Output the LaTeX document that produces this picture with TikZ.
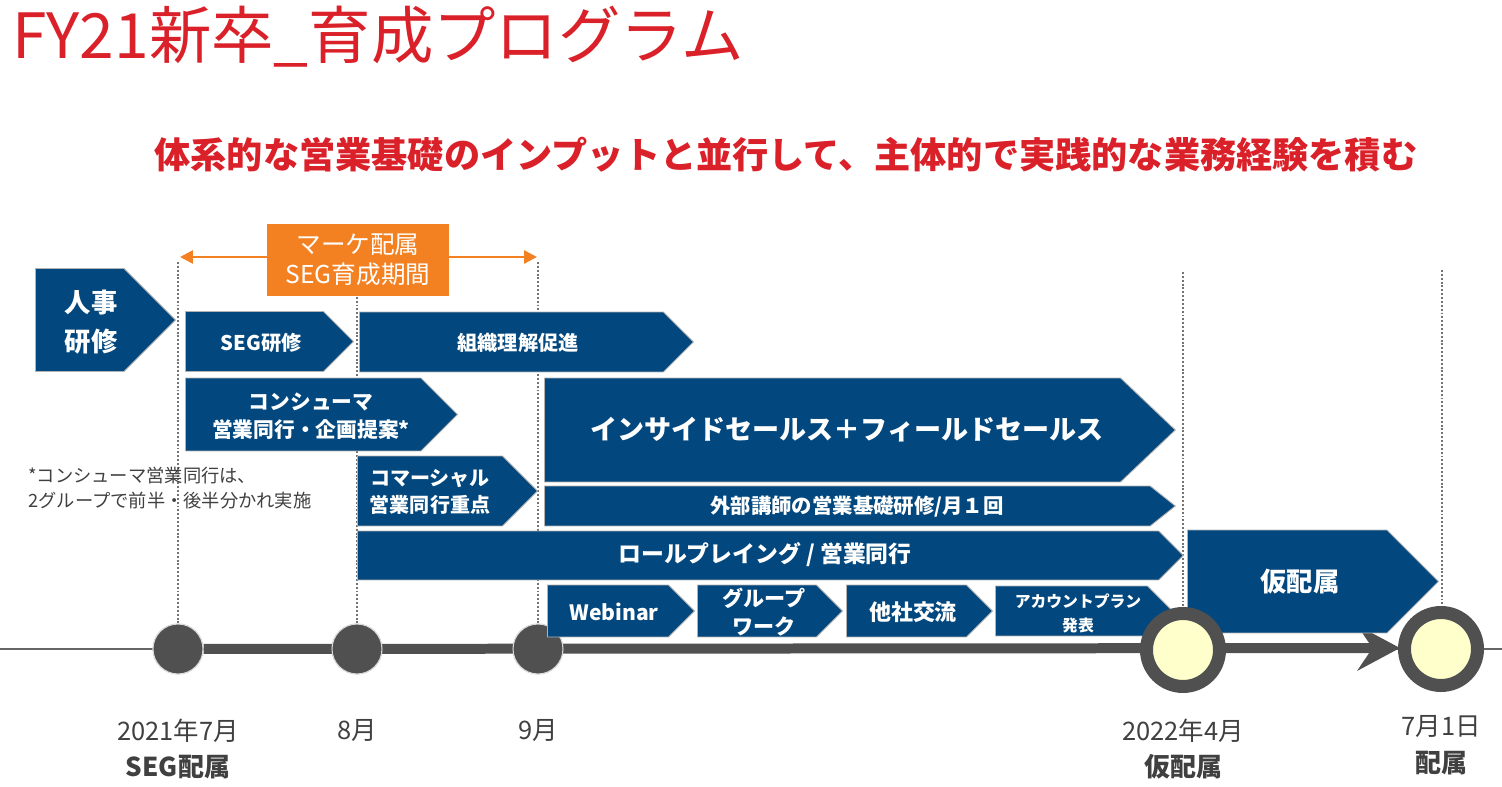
\documentclass[tikz,border=0pt]{standalone}
\usepackage{fontspec}
\setmainfont{Noto Sans CJK JP}
\usepackage{tikz}
\usetikzlibrary{arrows.meta, shapes.symbols, positioning}
\usepackage{xcolor}
\definecolor{segblue}{RGB}{2,71,125}
\definecolor{segred}{RGB}{218,32,40}
\definecolor{segorange}{RGB}{243,128,33}
\definecolor{seggray}{RGB}{80,80,80}
\definecolor{segtext}{RGB}{64,64,64}
\definecolor{segyellow}{RGB}{255,255,204}

\begin{document}
\begin{tikzpicture}[x=0.02cm, y=-0.02cm]
\tikzstyle{chev} = [
	shape=signal, %arrow shaped box
	signal to=east,
	signal pointer angle=90,
	fill=segblue,
	draw=gray!60,
	line width=0.5pt,
	inner sep=0pt,
	anchor=west
];
\tikzstyle{chevtext} = [text=white, align=center, inner sep=0pt];
\tikzstyle{guide} = [draw=gray!90!black, line width=0.8pt, dash pattern=on 1.1pt off 1.1pt];
\tikzstyle{dot} = [circle, fill=seggray, draw=gray!30, line width=0.6pt, minimum size=1.0cm, inner sep=0pt];
\tikzstyle{ring} = [circle, fill=segyellow, draw=seggray, line width=0.26cm, minimum size=1.46cm, inner sep=0pt];
\tikzstyle{lbl} = [text=segtext, font=\fontsize{14.5}{16}\selectfont, inner sep=0pt];
\tikzstyle{lblb} = [text=segtext, font=\bfseries\fontsize{14.8}{16}\selectfont, inner sep=0pt];

\useasboundingbox (0,0) rectangle (1502,787);

%headings
\node[anchor=west, text=segred, inner sep=0pt, font=\fontsize{35.5}{40}\selectfont] (title) at (12,37) {FY21新卒\_育成プログラム};
\node[text=segred, inner sep=0pt, font=\bfseries\fontsize{20.6}{24}\selectfont] (sub) at (786,155) {体系的な営業基礎のインプットと並行して、主体的で実践的な業務経験を積む};

%timeline
\coordinate (tlL) at (0,649);
\coordinate (tlR) at (1502,649);
\coordinate (tlend) at (1400,648);
\draw[gray!80!black, line width=0.9pt] (tlL) -- (tlR);

%guides
\coordinate (g1) at (178,262);
\coordinate (g2) at (357,262);
\coordinate (g3) at (538,262);
\coordinate (g4) at (1183,272);
\coordinate (g5) at (1442,270);

\node[dot] (c1) at (178,649) {};
\node[dot] (c2) at (357,649) {};
\node[dot] (c3) at (538,649) {};

\draw[guide] (g1) -- (c1.north);
\draw[guide] (g2) -- (c2.north);
\draw[guide] (g3) -- (c3.north);
\draw[guide] (g4) -- (1183,620);
\draw[guide] (g5) -- (1442,620);

\draw[seggray, line width=0.2cm, -{Stealth[length=0.85cm, width=0.9cm, inset=0.3cm]}]
	(c1) -- (tlend);
\node[dot] at (c1) {};
\node[dot] at (c2) {};
\node[dot] at (c3) {};

%marketing period
\coordinate (mkL) at (180,257);
\coordinate (mkR) at (537,257);
\draw[segorange, line width=1.5pt, {Triangle[length=0.26cm, width=0.26cm]}-{Triangle[length=0.26cm, width=0.26cm]}]
	(mkL) -- (mkR);
\node[fill=segorange, text=white, align=center, minimum width=3.64cm, minimum height=1.44cm, font=\fontsize{14}{17}\selectfont] (mk) at (358,260) {マーケ配属\\SEG育成期間};

%programs
\node[chev, minimum width=2.8cm, minimum height=2.06cm] (hr) at (35,320) {};
\node[chev, minimum width=3.36cm, minimum height=1.2cm] (seg) at (185,341.5) {};
\node[chev, minimum width=6.68cm, minimum height=1.2cm] (org) at (359,342) {};
\node[chev, minimum width=5.44cm, minimum height=1.46cm] (cons) at (185,414.5) {};
\node[chev, minimum width=3.6cm, minimum height=1.4cm] (comm) at (357,491) {};
\node[chev, minimum width=12.62cm, minimum height=2.08cm, signal pointer angle=87] (field) at (544,430) {};
\node[chev, minimum width=12.62cm, minimum height=0.8cm, signal pointer angle=77] (ext) at (544,506) {};
\node[chev, minimum width=16.52cm, minimum height=0.98cm] (role) at (357,555.5) {};
\node[chev, minimum width=2.94cm, minimum height=1.04cm] (web) at (547,611) {};
\node[chev, minimum width=2.9cm, minimum height=1.04cm] (grp) at (697,611) {};
\node[chev, minimum width=2.92cm, minimum height=1.04cm] (oth) at (846,611) {};
\node[chev, minimum width=3.54cm, minimum height=1.0cm] (acct) at (995,611) {};
\node[chev, minimum width=5.02cm, minimum height=2.06cm] (kari) at (1187,581.5) {};

%program texts
\node[chevtext, font=\bfseries\fontsize{15}{22}\selectfont] (hrtext) at (91,322) {人事\\研修};
\node[chevtext, font=\bfseries\fontsize{11.5}{16}\selectfont] (segtext) at (261,343) {SEG研修};
\node[chevtext, font=\bfseries\fontsize{11.5}{16}\selectfont] (orgtext) at (518,343) {組織理解促進};
\node[chevtext, font=\bfseries\fontsize{11.8}{16}\selectfont] (constext) at (311,416) {コンシューマ\\営業同行・企画提案*};
\node[chevtext, font=\bfseries\fontsize{11.4}{15.5}\selectfont] (commtext) at (430,492) {コマーシャル\\営業同行重点};
\node[chevtext, font=\bfseries\fontsize{15.4}{20}\selectfont] (fieldtext) at (847,430) {インサイドセールス＋フィールドセールス};
\node[chevtext, font=\bfseries\fontsize{11.6}{14}\selectfont] (exttext) at (857,507) {外部講師の営業基礎研修/月１回};
\node[chevtext, font=\bfseries\fontsize{13}{15}\selectfont] (roletext) at (765,555) {ロールプレイング / 営業同行};
\node[chevtext, font=\bfseries\fontsize{12}{15}\selectfont] (webtext) at (614,612) {Webinar};
\node[chevtext, font=\bfseries\fontsize{12}{16.4}\selectfont] (grptext) at (764,612) {グループ\\ワーク};
\node[chevtext, font=\bfseries\fontsize{12.5}{15}\selectfont] (othtext) at (913,612) {他社交流};
\node[chevtext, font=\bfseries\fontsize{9}{13.6}\selectfont] (accttext) at (1078,613) {アカウントプラン\\発表};
\node[chevtext, font=\bfseries\fontsize{15}{20}\selectfont] (karitext) at (1300,582) {仮配属};

%note
\node[anchor=north west, text=segtext, align=left, inner sep=0pt, font=\fontsize{10.4}{14.2}\selectfont] (note) at (28,467) {*コンシューマ営業同行は、\\2グループで前半・後半分かれ実施};

%milestones
\node[ring] (c4) at (1183,650) {};
\node[ring] (c5) at (1441,649) {};

\node[lbl] (l1) at (178,731) {2021年7月};
\node[lblb] (b1) at (178,767) {SEG配属};
\node[lbl] (l2) at (357,731) {8月};
\node[lbl] (l3) at (538,731) {9月};
\node[lbl] (l4) at (1183,731) {2022年4月};
\node[lblb] (b4) at (1183,767) {仮配属};
\node[lbl] (l5) at (1441,727) {7月1日};
\node[lblb] (b5) at (1441,763) {配属};

\end{tikzpicture}
\end{document}
